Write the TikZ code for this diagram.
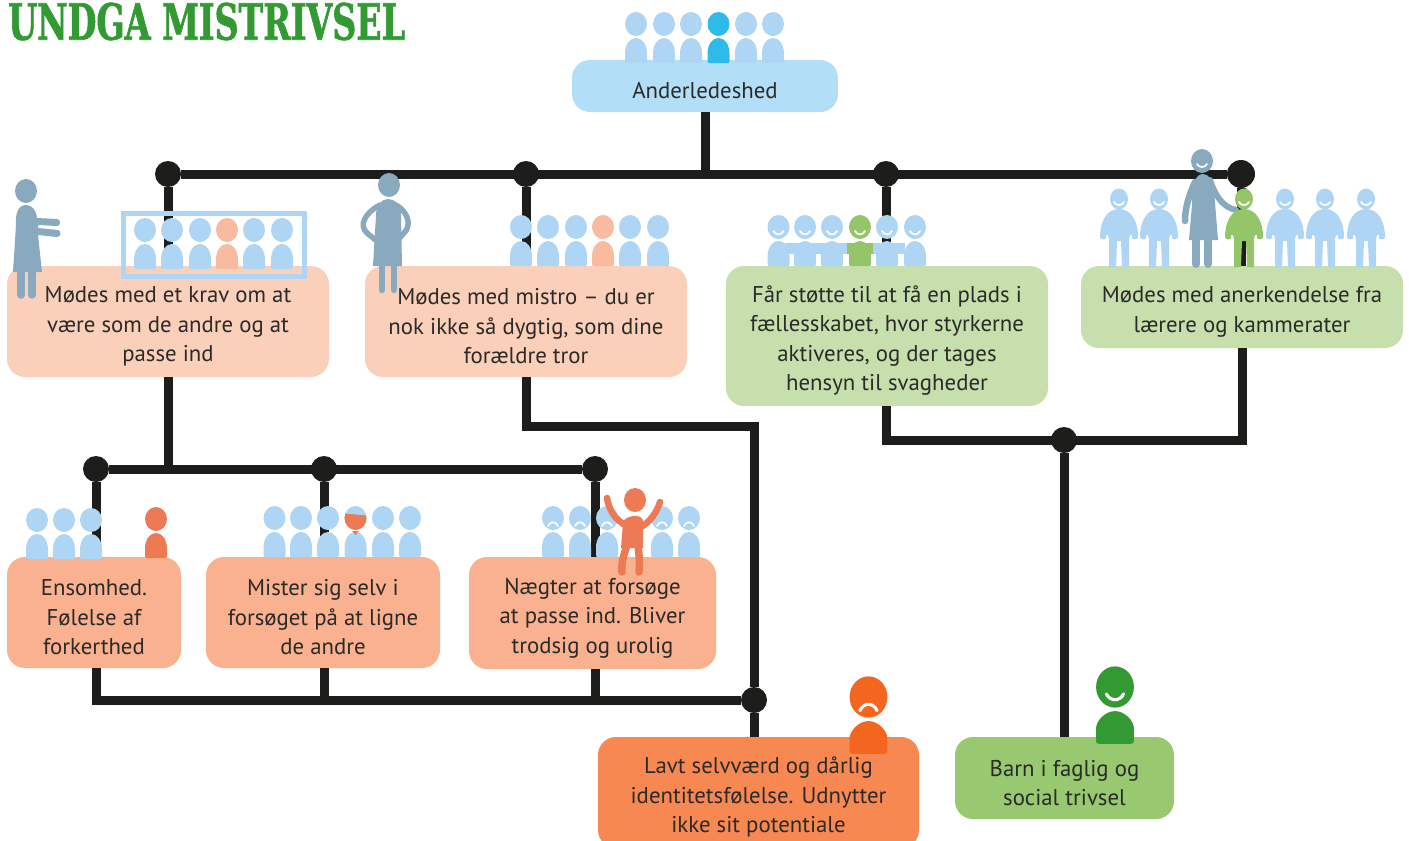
\documentclass[tikz,border=0pt]{standalone}
\usepackage{fontspec}
\setmainfont{PT Sans}
\newfontfamily\titlefont[FakeStretch=0.665,FakeBold=1.2]{DejaVu Serif}
\usetikzlibrary{calc}
\definecolor{ink}{HTML}{1D1D1B}
\definecolor{txt}{HTML}{2A2A28}
\definecolor{bl}{HTML}{AED5F3}
\definecolor{blbox}{HTML}{B2DFF7}
\definecolor{cy}{HTML}{2EBBEA}
\definecolor{pe}{HTML}{FBD0BA}
\definecolor{pep}{HTML}{F9BBA0}
\definecolor{gb}{HTML}{C7DFAC}
\definecolor{gp}{HTML}{94C669}
\definecolor{or}{HTML}{FAB18F}
\definecolor{orp}{HTML}{EC7A54}
\definecolor{dor}{HTML}{F88852}
\definecolor{dorp}{HTML}{F4651F}
\definecolor{gre}{HTML}{98C86F}
\definecolor{dg}{HTML}{339933}
\definecolor{gy}{HTML}{89A9BF}
\newcommand\fs{\rule{0pt}{26pt}}
\tikzset{
  x=1pt,y=-1pt,
  boxn/.style={rounded corners=18pt,inner sep=0pt,align=center,text=txt,font=\fontsize{22.8}{29.5}\selectfont},
  dot/.style={circle,fill=ink,inner sep=0pt,minimum size=26pt},
  wire/.style={draw=ink,line width=9pt,line cap=butt,line join=miter},
  smileline/.style={draw=white,line width=1.8pt,line cap=round},
}
\def\bodyb{39}
% person: dome body + oval head
\newcommand\pers[4][1]{\begin{scope}[shift={(#2,#3)},scale=#1]
 \fill[#4] (0,0) ellipse [x radius=11,y radius=12];
 \fill[#4] (-11,\bodyb-2) -- (-11,\bodyb-9) .. controls (-11,20) and (-6,14) .. (0,14) .. controls (6,14) and (11,20) .. (11,\bodyb-9) -- (11,\bodyb-2) .. controls (11,\bodyb) and (10,\bodyb) .. (9,\bodyb) -- (-9,\bodyb) .. controls (-10,\bodyb) and (-11,\bodyb) .. (-11,\bodyb-2) -- cycle;
\end{scope}}
\newcommand\smy[3][1]{\draw[smileline,line width=#1*1.8pt] ($(#2,#3)+(-5*#1,4*#1)$) .. controls ($(#2,#3)+(-3*#1,8.5*#1)$) and ($(#2,#3)+(3*#1,8.5*#1)$) .. ($(#2,#3)+(5*#1,4*#1)$);}
\newcommand\frw[3][1]{\draw[smileline,line width=#1*1.8pt] ($(#2,#3)+(-5*#1,8*#1)$) .. controls ($(#2,#3)+(-3*#1,3*#1)$) and ($(#2,#3)+(3*#1,3*#1)$) .. ($(#2,#3)+(5*#1,8*#1)$);}
% standing child figure
\newcommand\kid[2]{\begin{scope}[shift={(#1,199)}]
 \fill[#2] (0,0) ellipse [x radius=9,y radius=10.5];
 \fill[#2] (-10,68) -- (-10,40) .. controls (-10,38) and (-11,38) .. (-11,36) -- (-13,36) -- (-13,39) .. controls (-13,41) and (-19,41) .. (-19,38) .. controls (-19,22) and (-12,10) .. (0,10) .. controls (12,10) and (19,22) .. (19,38) .. controls (19,41) and (13,41) .. (13,39) -- (13,36) -- (11,36) .. controls (11,38) and (10,38) .. (10,40) -- (10,68) -- (3,68) -- (2,42) -- (-2,42) -- (-3,68) -- cycle;
 \draw[smileline] (-5,3) .. controls (-3,7) and (3,7) .. (5,3);
\end{scope}}
\begin{document}
\begin{tikzpicture}
\useasboundingbox (0,0) rectangle (1409,841);
% title
\node[anchor=west,inner sep=0pt,text=dg,font=\titlefont\bfseries\fontsize{50}{50}\selectfont] (title) at (8,21.5) {UNDGA MISTRIVSEL};
% boxes
\node[boxn,fill=blbox,minimum width=266pt,minimum height=52pt] (a) at (705,86) {\fs Anderledeshed};
\node[boxn,fill=pe,minimum width=322pt,minimum height=111pt] (b1) at (168,321.5) {\fs Mødes med et krav om at\\være som de andre og at\\passe ind};
\node[boxn,fill=pe,minimum width=322pt,minimum height=111pt] (b2) at (526,321.5) {\fs Mødes med mistro – du er\\nok ikke så dygtig, som dine\\forældre tror};
\node[boxn,fill=gb,minimum width=322pt,minimum height=140pt] (b3) at (887,336) {\fs Får støtte til at få en plads i\\fællesskabet, hvor styrkerne\\aktiveres, og der tages\\hensyn til svagheder};
\node[boxn,fill=gb,minimum width=322pt,minimum height=82pt] (b4) at (1242,307) {\fs Mødes med anerkendelse fra\\lærere og kammerater};
\node[boxn,fill=or,minimum width=174pt,minimum height=111pt] (c1) at (94,612.5) {\fs Ensomhed.\\Følelse af\\forkerthed};
\node[boxn,fill=or,minimum width=234pt,minimum height=111pt] (c2) at (323,612.5) {\fs Mister sig selv i\\forsøget på at ligne\\de andre};
\node[boxn,fill=or,minimum width=247pt,minimum height=112pt] (c3) at (592.5,613) {\fs Nægter at forsøge\\at passe ind. Bliver\\trodsig og urolig};
\node[boxn,fill=dor,minimum width=321pt,minimum height=111pt] (d1) at (758.5,792.5) {\fs Lavt selvværd og dårlig\\identitetsfølelse. Udnytter\\ikke sit potentiale};
\node[boxn,fill=gre,minimum width=219pt,minimum height=82pt] (e1) at (1064.5,778) {\fs Barn i faglig og\\social trivsel};
% junctions
\node[dot] (j1) at (168,174) {};
\node[dot] (j2) at (526,174) {};
\node[dot] (j3) at (886,174) {};
\node[dot,minimum size=28pt] (j4) at (1241,174) {};
\node[dot] (k1) at (96,469) {};
\node[dot] (k2) at (324,469) {};
\node[dot] (k3) at (595,469) {};
\node[dot] (m) at (754,700) {};
\node[dot] (g) at (1064,440) {};
\coordinate (kt) at (168,469);
\coordinate (j0) at (705,174);
\coordinate (bend1) at (526,426);
\coordinate (bend2) at (754,426);
\coordinate (c1b) at (96,700);
\coordinate (c2b) at (324,700);
\coordinate (c3b) at (595,700);
\coordinate (g1) at (886,440);
\coordinate (g2) at (1242,440);
% connectors
\draw[wire] (j1) -- (j4);
\draw[wire] (a.south -| j0) -- (j0);
\draw[wire] (j1) -- (j1 |- b1.north);
\draw[wire] (j2) -- (j2 |- b2.north);
\draw[wire] (j3) -- (j3 |- b3.north);
\draw[wire] (j4) -- (j4 |- b4.north);
\draw[wire] (kt |- b1.south) -- (kt);
\draw[wire] (k1) -- (k3);
\draw[wire] (k1) -- (k1 |- c1.north);
\draw[wire] (k2) -- (k2 |- c2.north);
\draw[wire] (k3) -- (k3 |- c3.north);
\draw[wire] (c1b |- c1.south) -- (c1b) -- (m);
\draw[wire] (c2b |- c2.south) -- (c2b);
\draw[wire] (c3b |- c3.south) -- (c3b);
\draw[wire] (bend1 |- b2.south) -- (bend1) -- (bend2) -- (m);
\draw[wire] (m) -- (m |- d1.north);
\draw[wire] (g1 |- b3.south) -- (g1) -- (g2) -- (g2 |- b4.south);
\draw[wire] (g) -- (g |- e1.north);
% Anderledeshed people
\foreach \x in {636,664,691,746,773} {\pers{\x}{24}{bl}}
\pers{718.5}{24}{cy}
% frame group
\foreach \x in {145,172,200,254,282} {\pers{\x}{230}{bl}}
\pers{227}{230}{pep}
\draw[bl,line width=5pt] (123,213.5) rectangle (304.5,276.5);
% woman 1
\fill[gy] (26,191) ellipse [x radius=11,y radius=12];
\fill[gy] (13,272) -- (16,225) .. controls (15,212) and (19,205) .. (26,205) .. controls (32,205) and (36,210) .. (37,218) -- (57,219) .. controls (61,219) and (61,226) .. (57,226) -- (38,225) -- (38,228) -- (58,230) .. controls (62,231) and (61,237) .. (57,237) -- (38,235) -- (42,272) -- cycle;
\draw[gy,line width=7.5pt,line cap=round] (21,272) -- (21,295) (32,272) -- (32,295);
% woman 2
\fill[gy] (389,185) ellipse [x radius=11,y radius=12];
\fill[gy] (373,266) -- (376,215) .. controls (376,205) and (382,199) .. (388,199) .. controls (395,199) and (401,205) .. (401,215) -- (402,266) -- cycle;
\draw[gy,line width=5.5pt,line cap=round] (380,205) .. controls (366,212) and (358,225) .. (367,233) -- (378,242);
\draw[gy,line width=5.5pt,line cap=round] (396,205) .. controls (408,212) and (412,225) .. (404,233) -- (396,242);
\draw[gy,line width=6.5pt,line cap=round] (382,266) -- (382,290) (394,266) -- (394,290);
% mistro group
\foreach \x in {521,548,576,630,658} {\pers{\x}{227}{bl}}
\pers{603}{227}{pep}
% support group
\fill[bl] (785,243) rectangle (905,254);
\foreach \x in {778.5,805,832,887,915} {\pers{\x}{227}{bl}\smy{\x}{227}}
\pers{860}{227}{gp}\smy{860}{227}
\fill[gp] (847,243) rectangle (873,254);
% recognition group
\foreach \x in {1119,1159,1285,1325,1366} {\kid{\x}{bl}}
% mother
\fill[gy] (1202,161) ellipse [x radius=11,y radius=12];
\draw[smileline] (1197,164) .. controls (1199,168) and (1205,168) .. (1207,164);
\fill[gy] (1189,240) -- (1192,205) .. controls (1192,185) and (1195,174) .. (1203,174) .. controls (1209,174) and (1212,180) .. (1214,190) -- (1218,240) -- cycle;
\draw[gy,line width=6.5pt,line cap=round] (1195,182) .. controls (1189,195) and (1185,208) .. (1185,221);
\draw[gy,line width=6pt,line cap=round] (1210,180) .. controls (1215,195) and (1222,207) .. (1236,210);
\draw[gy,line width=8pt,line cap=round] (1196,240) -- (1196,264) (1208,240) -- (1208,264);
\kid{1244}{gp}
% lonely group
\foreach \x in {37,64,91} {\pers{\x}{520}{bl}}
\pers{156}{519}{orp}
% lost-self group
\foreach \x in {274.5,301,328,383,410} {\pers{\x}{518}{bl}}
\pers{355.5}{518}{bl}
\begin{scope}
\clip (355.5,518) ellipse [x radius=11,y radius=12];
\fill[orp] (340,513) -- (372,516) -- (372,535) -- (340,535) -- cycle;
\end{scope}
\fill[orp] (352,531) -- (359,531) -- (355.5,535) -- cycle;
% defiant group
\foreach \x in {553,580,607,662,689} {\pers{\x}{518}{bl}\frw{\x}{518}}
\fill[orp] (635,500) ellipse [x radius=11,y radius=12];
\fill[orp] (621,548) -- (623,522) .. controls (625,516) and (640,513) .. (643,520) -- (643,548) -- cycle;
\draw[orp,line width=6.5pt,line cap=round] (607,498) .. controls (609,510) and (615,520) .. (627,526);
\draw[orp,line width=6.5pt,line cap=round] (660,502) .. controls (657,512) and (650,522) .. (641,527);
\draw[orp,line width=7.5pt,line cap=round] (627,545) .. controls (624,555) and (621,562) .. (622,572);
\draw[orp,line width=7.5pt,line cap=round] (638,545) .. controls (639,555) and (640,562) .. (639,572);
% outcome people
\def\bodyb{33}
\pers[1.72]{868.5}{697}{dorp}\frw[1.72]{868.5}{697}
\pers[1.72]{1115}{687}{dg}\smy[1.72]{1115}{687}
\end{tikzpicture}
\end{document}
